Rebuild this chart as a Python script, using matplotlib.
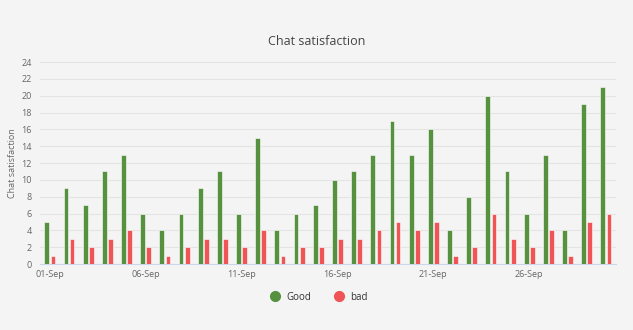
import matplotlib.pyplot as plt
import numpy as np
from matplotlib.lines import Line2D

plt.rcParams['font.family'] = ['Open Sans', 'DejaVu Sans']

# daily chat ratings for September
days = list(range(1, 31))
good = [5, 9, 7, 11, 13, 6, 4, 6, 9, 11, 6, 15, 4, 6, 7,
        10, 11, 13, 17, 13, 16, 4, 8, 20, 11, 6, 13, 4, 19, 21]
bad = [1, 3, 2, 3, 4, 2, 1, 2, 3, 3, 2, 4, 1, 2, 2,
       3, 3, 4, 5, 4, 5, 1, 2, 6, 3, 2, 4, 1, 5, 6]
tick_days = [1, 6, 11, 16, 21, 26]
tick_labels = ['01-Sep', '06-Sep', '11-Sep', '16-Sep', '21-Sep', '26-Sep']

green = '#56913f'
red = '#ef5456'
bg = '#f4f4f4'

fig = plt.figure(figsize=(6.33, 3.3), dpi=100, facecolor=bg)
ax = fig.add_axes([0.063, 0.2, 0.91, 0.612], facecolor=bg)

x = np.array(days)
off = 0.16
w = 0.25
ax.bar(x - off, good, width=w, color=green, edgecolor='white', linewidth=0.4, zorder=3)
ax.bar(x + off, bad, width=w, color=red, edgecolor='white', linewidth=0.4, zorder=3)

ax.set_xlim(0.48, 30.52)
ax.set_ylim(0, 24)
ax.set_yticks(range(0, 25, 2))
ax.set_xticks(tick_days)
ax.set_xticklabels(tick_labels)
ax.tick_params(axis='both', length=0, labelsize=6.5, colors='#666666')
ax.tick_params(axis='y', pad=6)
ax.tick_params(axis='x', pad=4)
ax.grid(axis='y', color='#e4e4e4', linewidth=0.8, zorder=0)
for s in ['top', 'right', 'left']:
    ax.spines[s].set_visible(False)
ax.spines['bottom'].set_color('#ccd6eb')
ax.spines['bottom'].set_linewidth(0.8)

ax.set_ylabel('Chat satisfaction', fontsize=6.5, color='#666666', labelpad=3)
fig.text(0.5, 0.873, 'Chat satisfaction', ha='center', va='center', fontsize=9, color='#444444')

handles = [Line2D([], [], marker='o', linestyle='', markersize=7, color=green, label='Good'),
           Line2D([], [], marker='o', linestyle='', markersize=7, color=red, label='bad')]
fig.legend(handles=handles, loc='center', bbox_to_anchor=(0.5, 0.1), ncol=2, frameon=False,
           fontsize=7, labelcolor='#333333', handletextpad=0.2, columnspacing=1.8)

fig.savefig('out.png', dpi=100, facecolor=bg)
